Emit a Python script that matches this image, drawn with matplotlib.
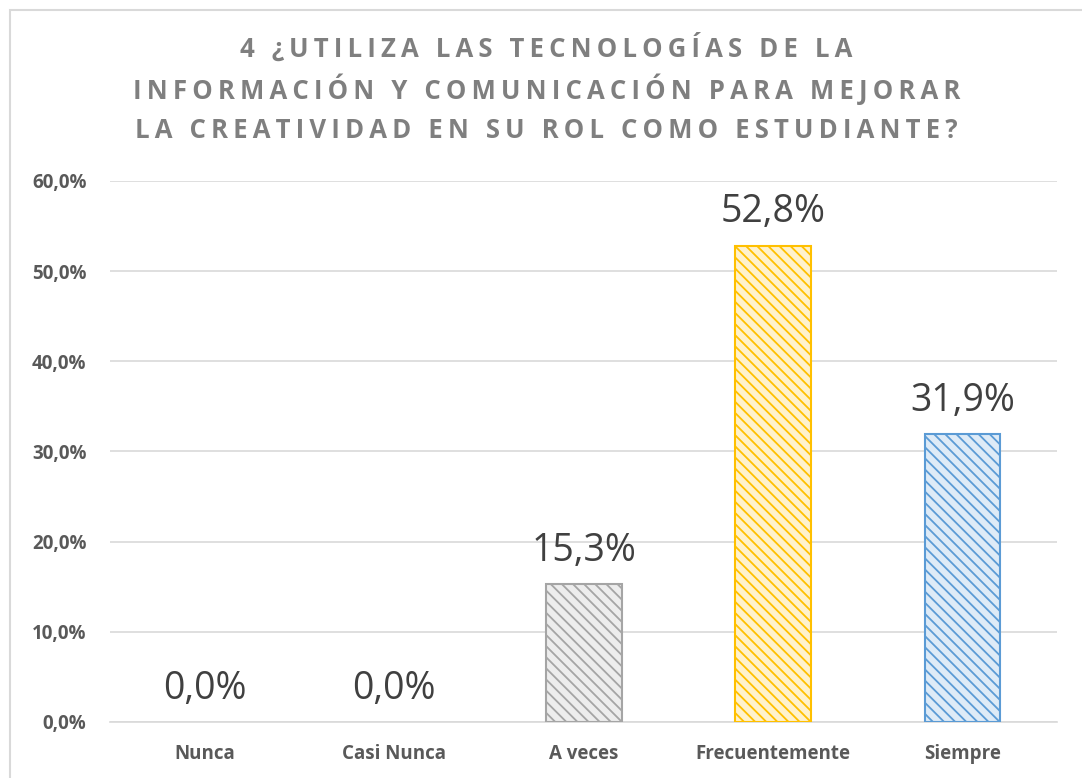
import numpy as np
import matplotlib.pyplot as plt
from matplotlib.patches import Rectangle
from matplotlib.ticker import FuncFormatter

categories = ["Nunca", "Casi Nunca", "A veces", "Frecuentemente", "Siempre"]
values = [0.0, 0.0, 15.3, 52.8, 31.9]
face_colors = ["#EDEDED", "#EDEDED", "#EDEDED", "#FFF2CC", "#DEEBF7"]
edge_colors = ["#A5A5A5", "#A5A5A5", "#A5A5A5", "#FFC000", "#5B9BD5"]
title_lines = ["4 ¿UTILIZA LAS TECNOLOGÍAS DE LA",
               "INFORMACIÓN Y COMUNICACIÓN PARA MEJORAR",
               "LA CREATIVIDAD EN SU ROL COMO ESTUDIANTE?"]

plt.rcParams['font.family'] = ['Open Sans', 'DejaVu Sans']
plt.rcParams['hatch.linewidth'] = 1.3

fig = plt.figure(figsize=(10.82, 7.78), dpi=100)
ax = fig.add_axes([0.1017, 0.072, 0.8755, 0.6954])

# outer chart border (only top/left visible in the reference)
fig.patches.append(Rectangle((10 / 1082, -0.1), 1.2, 1 - 10 / 778 + 0.1,
                             transform=fig.transFigure, fill=False,
                             edgecolor="#D9D9D9", linewidth=1.5))

x = np.arange(len(categories))
for xi, v, fc, ec in zip(x, values, face_colors, edge_colors):
    if v > 0:
        plt.rcParams['hatch.color'] = ec
        ax.bar(xi, v, width=0.4, color=fc, edgecolor=ec, linewidth=1.5,
               hatch="\\\\\\", zorder=3)
    ax.text(xi, v + 1.6, "{:.1f}%".format(v).replace(".", ","),
            ha="center", va="bottom", fontsize=27, color="#404040")

ax.set_xlim(-0.5, len(categories) - 0.5)
ax.set_ylim(0, 60)
ax.set_yticks(np.arange(0, 61, 10))
ax.yaxis.set_major_formatter(FuncFormatter(lambda v, p: "{:.1f}%".format(v).replace(".", ",")))
ax.set_xticks(x)
ax.set_xticklabels(categories)
for lbl in ax.get_xticklabels() + ax.get_yticklabels():
    lbl.set_fontweight("bold")
    lbl.set_color("#595959")
    lbl.set_fontsize(13.5)
ax.tick_params(length=0)
ax.tick_params(axis="y", pad=17)
ax.tick_params(axis="x", pad=16)
ax.grid(axis="y", color="#D9D9D9", linewidth=1.2, zorder=0)
for s in ["top", "right", "left"]:
    ax.spines[s].set_visible(False)
ax.spines["bottom"].set_color("#D9D9D9")
ax.spines["bottom"].set_linewidth(1.2)

# title with wide letter spacing (thin spaces between letters)
for i, line in enumerate(title_lines):
    spaced = "\u2009".join(line)
    fig.text(0.5051, 1 - (48 + 41.5 * i) / 778, spaced, ha="center", va="center",
             fontsize=18.5, fontweight="bold", color="#7F7F7F")

fig.savefig("out.png", dpi=100)
